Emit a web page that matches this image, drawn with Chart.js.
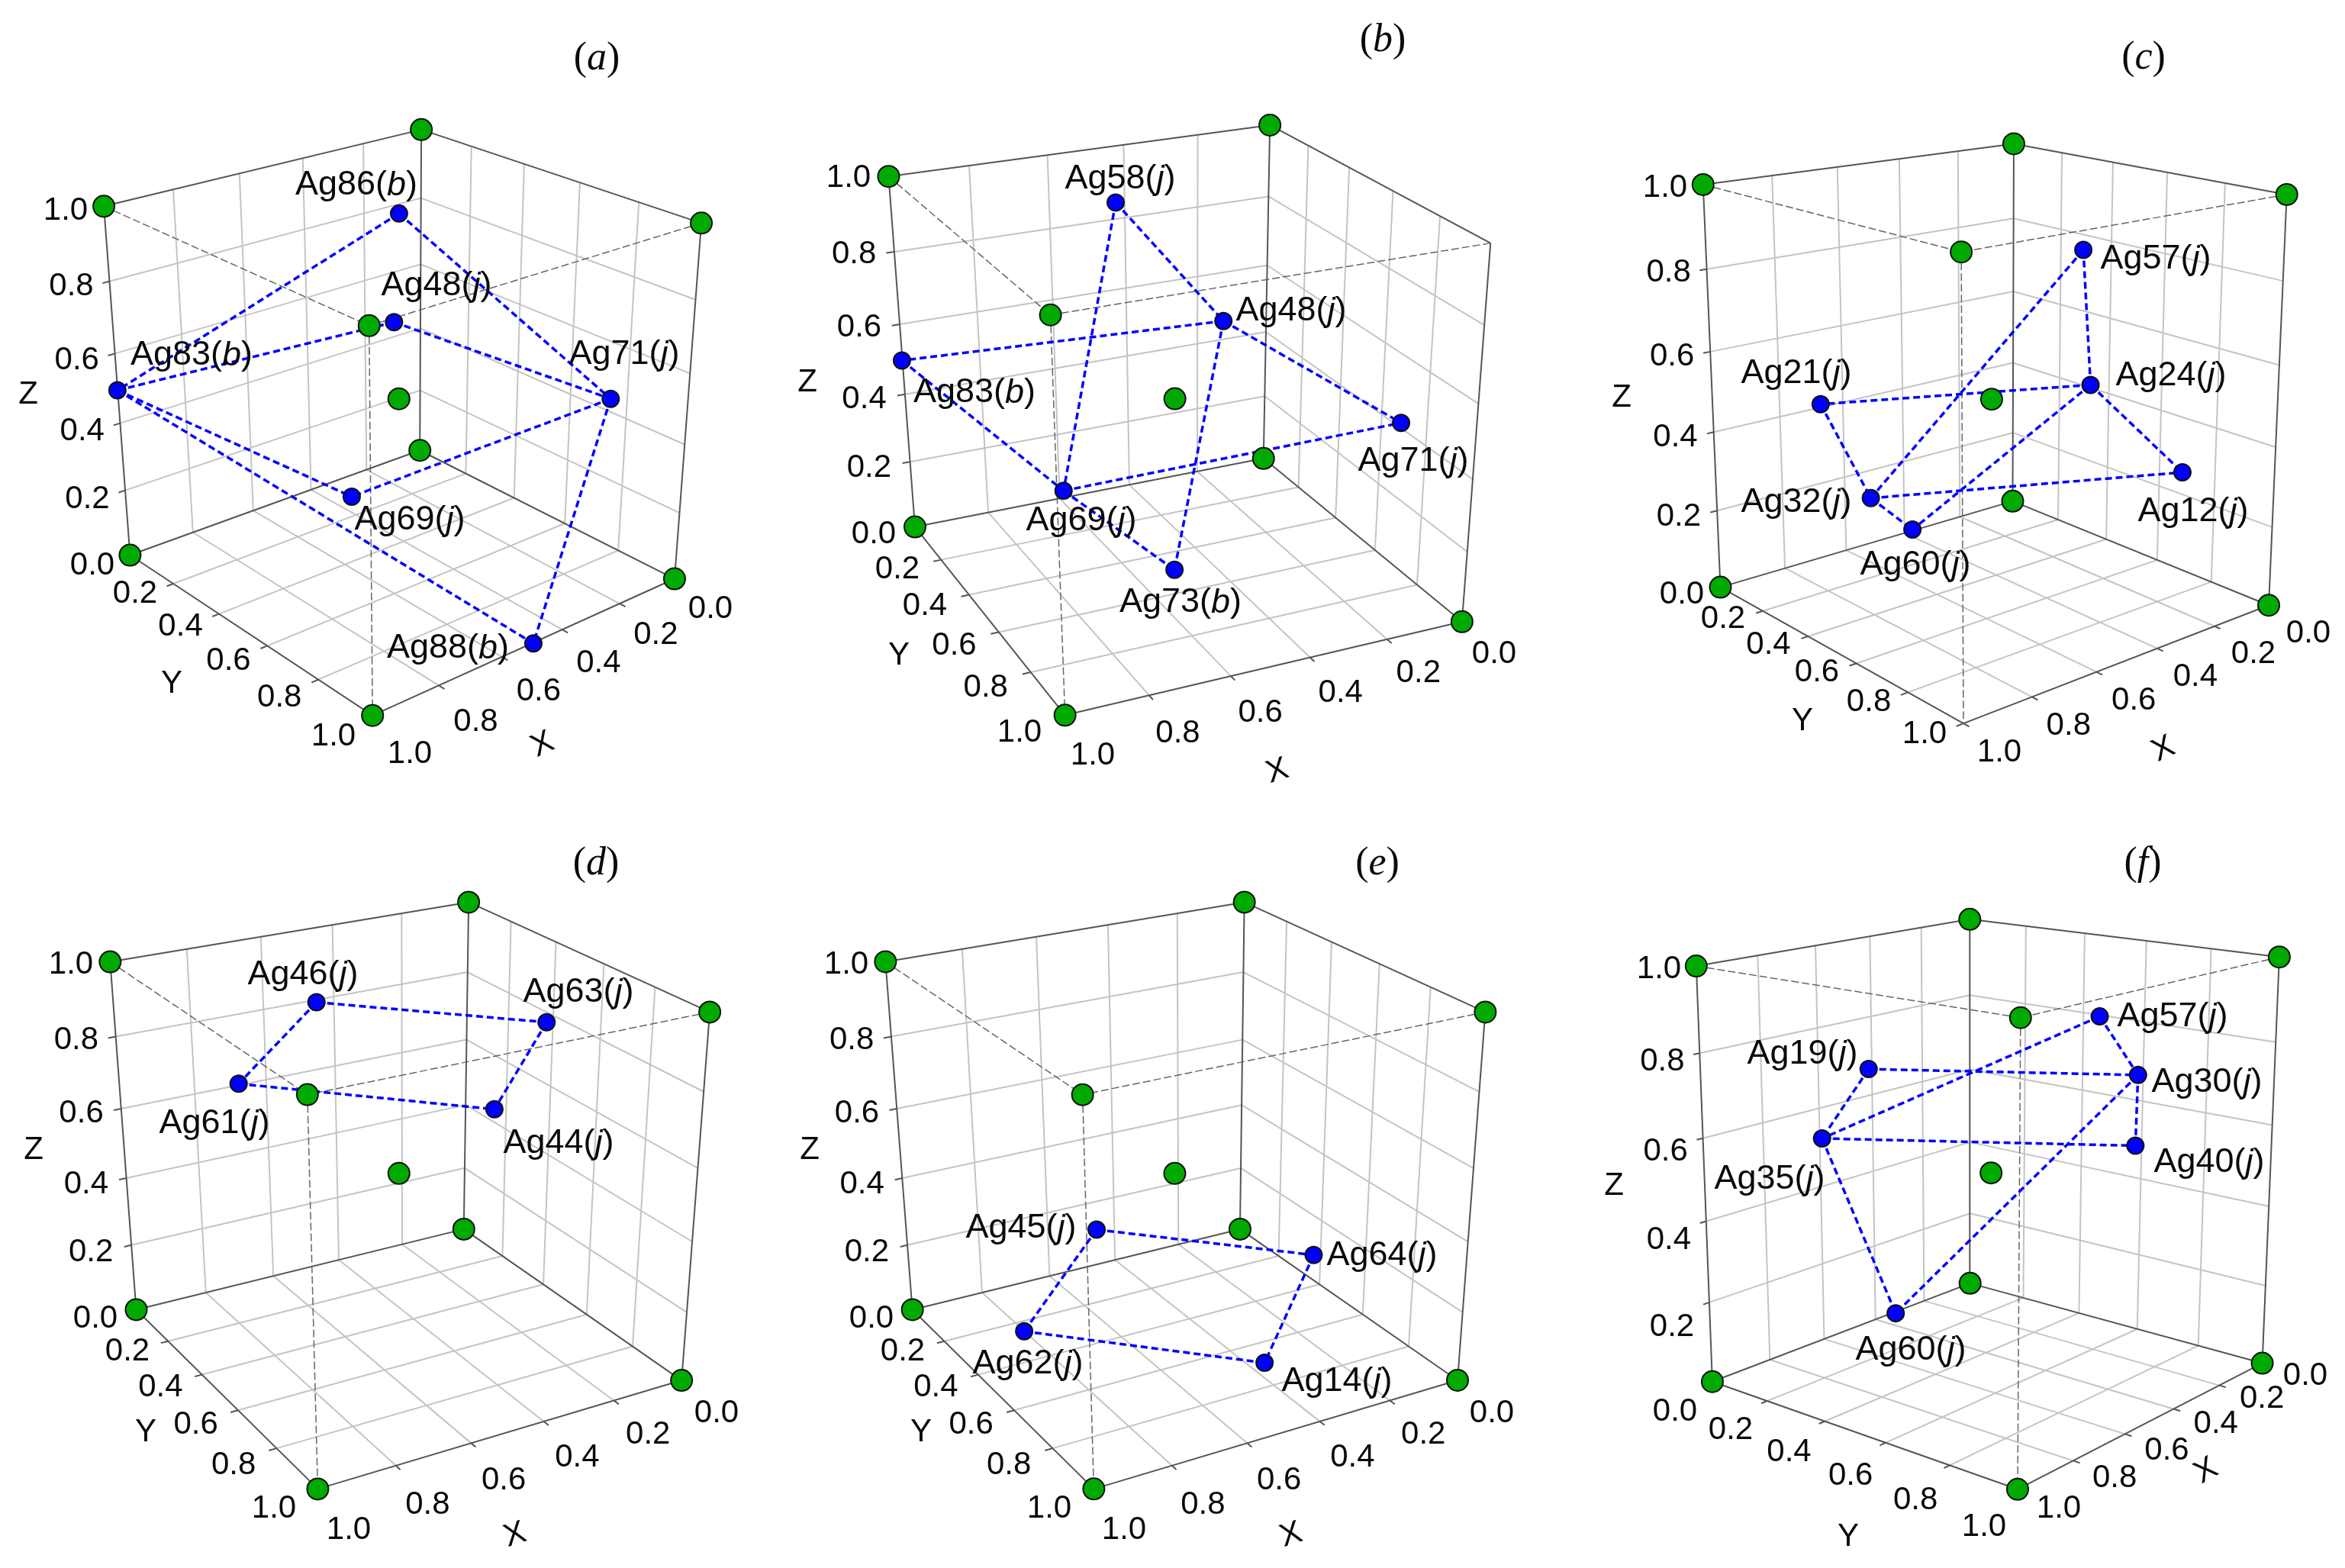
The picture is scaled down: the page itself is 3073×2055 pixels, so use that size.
<!DOCTYPE html>
<html>
<head>
<meta charset="utf-8">
<title>Ag sites</title>
<script src="https://cdn.jsdelivr.net/npm/chart.js@4/dist/chart.umd.min.js"></script>
<style>
  html, body { margin: 0; background: #fff; }
  canvas { position: absolute; }
</style>
</head>
<body>
<script>
// fractional coordinates
const tickValues = [0, 0.2, 0.4, 0.6, 0.8, 1];
const tickLabels = ['0.0', '0.2', '0.4', '0.6', '0.8', '1.0'];

// green sites: the cell corners and the centre
const siteX = [1, 0, 0, 1, 1, 0, 0, 1, 0.5];
const siteY = [0, 0, 1, 1, 0, 0, 1, 1, 0.5];
const siteZ = [1, 1, 1, 1, 0, 0, 0, 0, 0.5];

const namesA = ['Ag86(b)', 'Ag48(j)', 'Ag83(b)', 'Ag71(j)', 'Ag69(j)', 'Ag88(b)'];
const xA = [0.398, 0.460, 1.074, 0.136, 0.667, 0.478];
const yA = [0.380, 0.434, 0.121, 0.871, 0.517, 0.981];
const zA = [0.947, 0.682, 0.560, 0.524, 0.278, -0.019];
const bondsA = [[0, 2], [0, 3], [1, 2], [1, 3], [2, 4], [2, 5], [3, 4], [3, 5]];

const namesB = ['Ag58(j)', 'Ag48(j)', 'Ag83(b)', 'Ag71(j)', 'Ag69(j)', 'Ag73(b)'];
const xB = [0.555, 0.367, 1.083, 0.063, 0.786, 0.593];
const yB = [0.302, 0.483, 0.268, 0.789, 0.498, 0.692];
const zB = [0.960, 0.680, 0.620, 0.471, 0.302, 0.130];
const bondsB = [[0, 4], [0, 1], [1, 2], [1, 3], [1, 5], [2, 4], [4, 3], [4, 5]];

const namesC = ['Ag57(j)', 'Ag24(j)', 'Ag21(j)', 'Ag32(j)', 'Ag60(j)', 'Ag12(j)'];
const xC = [0.288, 0.314, 0.850, 0.790, 0.723, 0.205];
const yC = [0.600, 0.661, 0.261, 0.381, 0.461, 0.880];
const zC = [0.847, 0.536, 0.500, 0.286, 0.214, 0.351];
const bondsC = [[0, 1], [0, 3], [1, 2], [1, 4], [1, 5], [2, 3], [3, 4], [3, 5]];

const namesD = ['Ag46(j)', 'Ag63(j)', 'Ag61(j)', 'Ag44(j)'];
const xD = [0.598, 0.143, 0.800, 0.276];
const yD = [0.282, 0.580, 0.259, 0.568];
const zD = [0.908, 0.866, 0.721, 0.654];
const bondsD = [[0, 1], [0, 2], [1, 3], [2, 3]];

const namesE = ['Ag45(j)', 'Ag64(j)', 'Ag62(j)', 'Ag14(j)'];
const xE = [0.698, 0.272, 0.923, 0.443];
const yE = [0.467, 0.765, 0.512, 0.824];
const zE = [0.375, 0.327, 0.163, 0.091];
const bondsE = [[0, 1], [0, 2], [1, 3], [2, 3]];

const namesF = ['Ag57(j)', 'Ag19(j)', 'Ag30(j)', 'Ag35(j)', 'Ag40(j)', 'Ag60(j)'];
const xF = [0.289, 0.671, 0.250, 0.781, 0.278, 0.741];
const yF = [0.671, 0.248, 0.763, 0.191, 0.780, 0.395];
const zF = [0.863, 0.743, 0.730, 0.588, 0.568, 0.191];
const bondsF = [[0, 2], [0, 3], [1, 2], [1, 3], [2, 4], [2, 5], [3, 4], [3, 5]];

// page layout of each cell. view = where the green sites sit, in the order above
const panels = [
  { title: 'a', box: [0, 0, 1024, 1027], names: namesA, xs: xA, ys: yA, zs: zA, bonds: bondsA, skip: [], xTilt: -25,
    view: [[136.5,269],[552,171],[919,291],[483,427],[170,729],[550,588],[884,760],[488.5,936],[523.5,525]],
    titleAt: [782,75], zLab: [[121,739],[86,274]], yLab: [[177,776],[437,963]], xLab: [[931,796],[537,986]],
    zAt: [37,515], yAt: [225,894], xAt: [711,974],
    labels: [[467,241],[572,373],[251,464],[818,463],[537,680],[587,848]] },
  { title: 'b', box: [1024, 0, 1024, 1027], names: namesB, xs: xB, ys: yB, zs: zB, bonds: bondsB, skip: [2], xTilt: -18,
    view: [[1166,230.5],[1665.4,165],[1952.8,317],[1373.4,412.6],[1197,691.5],[1655,598.6],[1915.6,816.6],[1399,935.8],[1540,525]],
    titleAt: [1812,51], zLab: [[1145,698],[1112,231]], yLab: [[1176,744],[1336,958]], xLab: [[1958,855],[1432,988]],
    zAt: [1058,499], yAt: [1178,857], xAt: [1674,1009],
    labels: [[1468,233],[1692,406],[1277,513],[1852,603],[1417,681],[1547,788]] },
  { title: 'c', box: [2048, 0, 1025, 1027], names: namesC, xs: xC, ys: yC, zs: zC, bonds: bondsC, skip: [7], xTilt: -25,
    view: [[2232.2,242.3],[2639.1,188],[2996.4,254.7],[2569.9,329.4],[2253.7,768.8],[2637.8,656.8],[2972.9,793],[2573.8,948.3],[2609.7,525.2]],
    titleAt: [2809,74], zLab: [[2204,777],[2182,244]], yLab: [[2258,809],[2522,960]], xLab: [[3025,828],[2620,984]],
    zAt: [2125,519], yAt: [2362,943], xAt: [2835,980],
    labels: [[2825,338],[2845,491],[2354,488],[2354,657],[2510,739],[2874,669]] },
  { title: 'd', box: [0, 1027, 1024, 1028], names: namesD, xs: xD, ys: yD, zs: zD, bonds: bondsD, skip: [], xTilt: -18,
    view: [[145.7,1259.6],[614.6,1183.3],[930.1,1325],[400.4,1434.6],[177,1717.3],[607.4,1609],[892.9,1810.3],[418.7,1950],[523.2,1540.4]],
    titleAt: [781,1130], zLab: [[125,1726],[93,1262]], yLab: [[167,1769],[359,1975]], xLab: [[939,1850],[457,2003]],
    zAt: [44,1505], yAt: [191,1875], xAt: [675,2010],
    labels: [[397,1276],[758,1299],[281,1471],[732,1497]] },
  { title: 'e', box: [1024, 1027, 1024, 1028], names: namesE, xs: xE, ys: yE, zs: zE, bonds: bondsE, skip: [], xTilt: -18,
    view: [[1161.2,1259.6],[1630.8,1183.3],[1946.3,1325],[1417.2,1434.6],[1194.5,1717.3],[1624.9,1609],[1909.7,1810.3],[1434.8,1950],[1540,1540.4]],
    titleAt: [1805,1130], zLab: [[1142,1726],[1109,1262]], yLab: [[1183,1769],[1375,1975]], xLab: [[1955,1850],[1473,2003]],
    zAt: [1061,1505], yAt: [1207,1875], xAt: [1692,2010],
    labels: [[1338,1608],[1811,1644],[1347,1786],[1752,1809]] },
  { title: 'f', box: [2048, 1027, 1025, 1028], names: namesF, xs: xF, ys: yF, zs: zF, bonds: bondsF, skip: [], xTilt: -30,
    view: [[2223,1265.4],[2581,1205.1],[2985.9,1253.8],[2648.9,1332.7],[2244,1812.2],[2581.6,1679.5],[2965.7,1787.8],[2642.4,1950],[2609.7,1540.4]],
    titleAt: [2808,1130], zLab: [[2195,1848],[2174,1268]], yLab: [[2268,1872],[2600,1999]], xLab: [[3021,1801],[2698,1975]],
    zAt: [2115,1552], yAt: [2422,2012], xAt: [2891,1926],
    labels: [[2847,1331],[2362,1380],[2892,1417],[2319,1544],[2895,1522],[2504,1768]] }
];

const SANS = '"Liberation Sans", Arial, sans-serif';
const SERIF = '"Liberation Serif", "Times New Roman", serif';
const TICK_FONT = 42, ATOM_FONT = 45, TITLE_FONT = 52;
const TEXT_DROP = 2;

function solve(A, b) {
  const n = b.length;
  A = A.map((r, i) => [...r, b[i]]);
  for (let i = 0; i < n; i++) {
    let p = i;
    for (let k = i + 1; k < n; k++) if (Math.abs(A[k][i]) > Math.abs(A[p][i])) p = k;
    [A[i], A[p]] = [A[p], A[i]];
    for (let k = 0; k < n; k++) {
      if (k === i) continue;
      const f = A[k][i] / A[i][i];
      for (let j = i; j <= n; j++) A[k][j] -= f * A[i][j];
    }
  }
  return A.map((r, i) => r[n] / r[i]);
}

// perspective camera fitted to the nine site positions (least squares)
function fitCamera(view) {
  const rows = [], rhs = [];
  view.forEach(([px, py], i) => {
    const u = px / 1000, v = py / 1000, x = siteX[i], y = siteY[i], z = siteZ[i];
    rows.push([x, y, z, 1, 0, 0, 0, 0, -u * x, -u * y, -u * z]); rhs.push(u);
    rows.push([0, 0, 0, 0, x, y, z, 1, -v * x, -v * y, -v * z]); rhs.push(v);
  });
  const N = Array.from({ length: 11 }, () => Array(11).fill(0)), r = Array(11).fill(0);
  rows.forEach((row, k) => {
    for (let i = 0; i < 11; i++) {
      r[i] += row[i] * rhs[k];
      for (let j = 0; j < 11; j++) N[i][j] += row[i] * row[j];
    }
  });
  const m = solve(N, r);
  return (x, y, z) => {
    const w = m[8] * x + m[9] * y + m[10] * z + 1;
    return { x: 1000 * (m[0] * x + m[1] * y + m[2] * z + m[3]) / w,
             y: 1000 * (m[4] * x + m[5] * y + m[6] * z + m[7]) / w };
  };
}

function lines(project, segs) {
  const out = [];
  segs.forEach(([a, b]) => {
    out.push(project(...a), project(...b), { x: null, y: null });
  });
  return out;
}

// splits "Ag86(b)" so the site letter can go italic
function drawRich(ctx, text, cx, cy, size, family) {
  const m = text.match(/^(.*\()(.+)(\))$/);
  const parts = [[m[1], ''], [m[2], 'italic '], [m[3], '']];
  let w = 0;
  parts.forEach(([t, st]) => { ctx.font = `${st}${size}px ${family}`; w += ctx.measureText(t).width; });
  let x = cx - w / 2;
  ctx.textAlign = 'left';
  ctx.textBaseline = 'middle';
  parts.forEach(([t, st]) => {
    ctx.font = `${st}${size}px ${family}`;
    ctx.fillText(t, x, cy);
    x += ctx.measureText(t).width;
  });
}

function drawPanel(p) {
  const [left, top, w, h] = p.box;
  const cv = document.createElement('canvas');
  cv.width = w; cv.height = h;
  cv.style.left = left + 'px'; cv.style.top = top + 'px';
  cv.style.width = w + 'px'; cv.style.height = h + 'px';
  document.body.appendChild(cv);

  const project = fitCamera(p.view);
  const inner = tickValues.slice(1, -1);
  const grid = [];
  inner.forEach(t => {
    grid.push([[t, 0, 0], [t, 1, 0]], [[0, t, 0], [1, t, 0]]);   // floor
    grid.push([[t, 0, 0], [t, 0, 1]], [[0, 0, t], [1, 0, t]]);   // wall y=0
    grid.push([[0, t, 0], [0, t, 1]], [[0, 0, t], [0, 1, t]]);   // wall x=0
  });
  const frame = [
    [[1, 0, 1], [0, 0, 1]], [[0, 0, 1], [0, 1, 1]],
    [[1, 0, 0], [1, 0, 1]], [[0, 0, 0], [0, 0, 1]], [[0, 1, 0], [0, 1, 1]],
    [[1, 0, 0], [0, 0, 0]], [[0, 0, 0], [0, 1, 0]], [[1, 0, 0], [1, 1, 0]], [[0, 1, 0], [1, 1, 0]]
  ];
  const TICK = 0.02;
  tickValues.forEach(t => {
    frame.push([[1, 0, t], [1 + TICK, 0, t]]);
    frame.push([[1, t, 0], [1 + TICK, t, 0]]);
    frame.push([[t, 1, 0], [t, 1 + TICK, 0]]);
  });
  const front = [[[1, 0, 1], [1, 1, 1]], [[0, 1, 1], [1, 1, 1]], [[1, 1, 1], [1, 1, 0]]];
  const atoms = p.names.map((_, i) => [p.xs[i], p.ys[i], p.zs[i]]);
  const bonds = p.bonds.map(([a, b]) => [atoms[a], atoms[b]]);
  const sites = siteX.map((x, i) => [x, siteY[i], siteZ[i]]).filter((_, i) => !p.skip.includes(i));

  const lineSet = (data, color, width, dash, order) => ({
    data, showLine: true, borderColor: color, borderWidth: width, borderDash: dash,
    pointRadius: 0, spanGaps: false, order, clip: false
  });

  const textLayer = {
    id: 'textLayer',
    afterDatasetsDraw(chart) {
      const ctx = chart.ctx, sx = chart.scales.x, sy = chart.scales.y;
      const at = q => [sx.getPixelForValue(q[0]), sy.getPixelForValue(q[1] + TEXT_DROP)];
      ctx.save();
      ctx.fillStyle = '#0a0a0a';
      const axisLabels = (lab, base, first) => {
        const b0 = base(tickValues[first]), b1 = base(1);
        for (let i = first; i < tickValues.length; i++) {
          const t = tickValues[i], k = (t - tickValues[first]) / (1 - tickValues[first]);
          const b = base(t);
          const cx = b.x + (lab[0][0] - b0.x) * (1 - k) + (lab[1][0] - b1.x) * k;
          const cy = b.y + (lab[0][1] - b0.y) * (1 - k) + (lab[1][1] - b1.y) * k;
          const q = at([cx, cy]);
          ctx.font = `${TICK_FONT}px ${SANS}`;
          ctx.textAlign = 'center'; ctx.textBaseline = 'middle';
          ctx.fillText(tickLabels[i], q[0], q[1]);
        }
      };
      axisLabels(p.zLab, t => project(1, 0, t), 0);
      axisLabels(p.yLab, t => project(1, t, 0), 1);
      axisLabels(p.xLab, t => project(t, 1, 0), 0);

      [['Z', p.zAt, 0], ['Y', p.yAt, 0], ['X', p.xAt, p.xTilt]].forEach(([s, c, deg]) => {
        const q = at(c);
        ctx.save();
        ctx.translate(q[0], q[1]);
        ctx.rotate(deg * Math.PI / 180);
        ctx.font = `${TICK_FONT}px ${SANS}`;
        ctx.textAlign = 'center'; ctx.textBaseline = 'middle';
        ctx.fillText(s, 0, 0);
        ctx.restore();
      });

      p.names.forEach((n, i) => {
        const q = at(p.labels[i]);
        drawRich(ctx, n, q[0], q[1], ATOM_FONT, SANS);
      });
      const q = at(p.titleAt);
      drawRich(ctx, '(' + p.title + ')', q[0], q[1], TITLE_FONT, SERIF);
      ctx.restore();
    }
  };

  new Chart(cv, {
    type: 'scatter',
    data: {
      datasets: [
        { data: sites.map(s => project(...s)), backgroundColor: '#00aa00', borderColor: '#111',
          borderWidth: 2, pointRadius: 14, order: 1, clip: false },
        { data: atoms.map(a => project(...a)), backgroundColor: '#0000ff', borderColor: '#111',
          borderWidth: 2, pointRadius: 11, order: 0, clip: false },
        lineSet(lines(project, bonds), '#0000ff', 3.5, [9, 5], 2),
        lineSet(lines(project, front), '#666', 1.5, [10, 4], 3),
        lineSet(lines(project, frame), '#555', 2, [], 4),
        lineSet(lines(project, grid), '#c4c4c4', 2, [], 5)
      ]
    },
    options: {
      responsive: false,
      animation: false,
      events: [],
      layout: { padding: 0, autoPadding: false },
      plugins: { legend: { display: false }, tooltip: { enabled: false } },
      scales: {
        x: { type: 'linear', display: false, min: left, max: left + w },
        y: { type: 'linear', display: false, min: top, max: top + h, reverse: true }
      }
    },
    plugins: [textLayer]
  });
}

panels.forEach(drawPanel);
</script>
</body>
</html>
